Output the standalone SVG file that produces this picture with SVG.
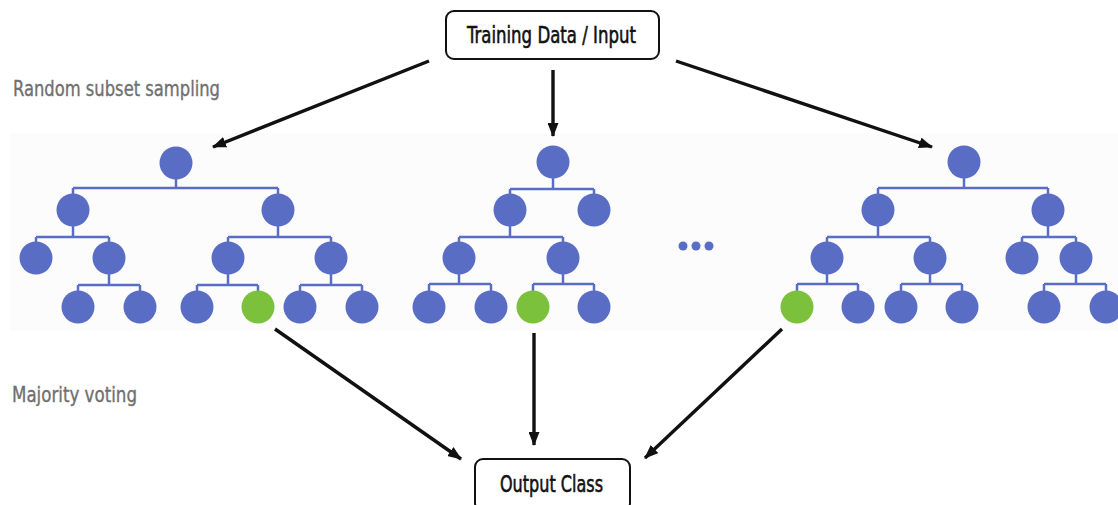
<svg xmlns="http://www.w3.org/2000/svg" width="1118" height="505" viewBox="0 0 1118 505">
  <defs>
    <marker id="arrow" viewBox="0 0 14 11" refX="13" refY="5.5" markerWidth="14" markerHeight="11" markerUnits="userSpaceOnUse" orient="auto">
      <path d="M0,0 L14,5.5 L0,11 Z" fill="#111"/>
    </marker>
  </defs>
  <style>
    .box { fill: #fff; stroke: #111; stroke-width: 2; }
    .label { font-family: "DejaVu Sans Condensed", "Liberation Sans Narrow", "Liberation Sans", sans-serif; fill: #111; stroke: #111; stroke-width: 0.55; font-size: 22.5px; }
    .side { font-family: "DejaVu Sans Condensed", "Liberation Sans Narrow", "Liberation Sans", sans-serif; fill: #707070; stroke: #707070; stroke-width: 0.35; font-size: 21px; }
    .edge { stroke: #5a6dc5; stroke-width: 2.5; fill: none; }
    .n { fill: #5a6dc5; }
    .g { fill: #7cc13c; }
    .conn { stroke: #111; stroke-width: 3.4; fill: none; marker-end: url(#arrow); }
  </style>

  <rect width="1118" height="505" fill="#fff"/>
  <!-- light panel behind the trees -->
  <rect x="10" y="133" width="1108" height="198" fill="#fcfcfc"/>

  <!-- section labels -->
  <text class="side" x="13" y="96" textLength="207" lengthAdjust="spacingAndGlyphs">Random subset sampling</text>
  <text class="side" x="12" y="402" textLength="125" lengthAdjust="spacingAndGlyphs">Majority voting</text>

  <!-- input node -->
  <g id="input">
    <rect class="box" x="446" y="11" width="213" height="48" rx="8"/>
    <text class="label" x="467" y="43" textLength="169" lengthAdjust="spacingAndGlyphs">Training Data / Input</text>
  </g>

  <!-- tree 1 -->
  <g id="tree1">
    <path class="edge" d="M176,163 V188 M73,188 H278 M73,188 V210 M278,188 V210
      M73,210 V237 M36,237 H109 M36,237 V258 M109,237 V258
      M278,210 V237 M228,237 H331 M228,237 V258 M331,237 V258
      M109,258 V285 M78,285 H140 M78,285 V307 M140,285 V307
      M228,258 V285 M197,285 H258 M197,285 V307 M258,285 V307
      M331,258 V285 M300,285 H362 M300,285 V307 M362,285 V307"/>
    <circle class="n" cx="176" cy="163" r="16.5"/>
    <circle class="n" cx="73" cy="210" r="16.5"/>
    <circle class="n" cx="278" cy="210" r="16.5"/>
    <circle class="n" cx="36" cy="258" r="16.5"/>
    <circle class="n" cx="109" cy="258" r="16.5"/>
    <circle class="n" cx="228" cy="258" r="16.5"/>
    <circle class="n" cx="331" cy="258" r="16.5"/>
    <circle class="n" cx="78" cy="307" r="16.5"/>
    <circle class="n" cx="140" cy="307" r="16.5"/>
    <circle class="n" cx="197" cy="307" r="16.5"/>
    <circle class="g" cx="258" cy="307" r="16.5"/>
    <circle class="n" cx="300" cy="307" r="16.5"/>
    <circle class="n" cx="362" cy="307" r="16.5"/>
  </g>

  <!-- tree 2 -->
  <g id="tree2">
    <path class="edge" d="M553,162 V189 M510,189 H594 M510,189 V210 M594,189 V210
      M510,210 V237 M459,237 H563 M459,237 V258 M563,237 V258
      M459,258 V284 M429,284 H491 M429,284 V307 M491,284 V307
      M563,258 V284 M533,284 H594 M533,284 V307 M594,284 V307"/>
    <circle class="n" cx="553" cy="162" r="16.5"/>
    <circle class="n" cx="510" cy="210" r="16.5"/>
    <circle class="n" cx="594" cy="210" r="16.5"/>
    <circle class="n" cx="459" cy="258" r="16.5"/>
    <circle class="n" cx="563" cy="258" r="16.5"/>
    <circle class="n" cx="429" cy="307" r="16.5"/>
    <circle class="n" cx="491" cy="307" r="16.5"/>
    <circle class="g" cx="533" cy="307" r="16.5"/>
    <circle class="n" cx="594" cy="307" r="16.5"/>
  </g>

  <!-- ellipsis between trees -->
  <g id="more">
    <circle class="n" cx="683" cy="246" r="4.5"/>
    <circle class="n" cx="696" cy="246" r="4.5"/>
    <circle class="n" cx="709" cy="246" r="4.5"/>
  </g>

  <!-- tree 3 -->
  <g id="tree3">
    <path class="edge" d="M964,162 V188 M878,188 H1048 M878,188 V210 M1048,188 V210
      M878,210 V237 M827,237 H930 M827,237 V258 M930,237 V258
      M1048,210 V237 M1022,237 H1076 M1022,237 V258 M1076,237 V258
      M827,258 V284 M797,284 H858 M797,284 V307 M858,284 V307
      M930,258 V284 M901,284 H962 M901,284 V307 M962,284 V307
      M1076,258 V284 M1044,284 H1106 M1044,284 V307 M1106,284 V307"/>
    <circle class="n" cx="964" cy="162" r="16.5"/>
    <circle class="n" cx="878" cy="210" r="16.5"/>
    <circle class="n" cx="1048" cy="210" r="16.5"/>
    <circle class="n" cx="827" cy="258" r="16.5"/>
    <circle class="n" cx="930" cy="258" r="16.5"/>
    <circle class="n" cx="1022" cy="258" r="16.5"/>
    <circle class="n" cx="1076" cy="258" r="16.5"/>
    <circle class="g" cx="797" cy="307" r="16.5"/>
    <circle class="n" cx="858" cy="307" r="16.5"/>
    <circle class="n" cx="901" cy="307" r="16.5"/>
    <circle class="n" cx="962" cy="307" r="16.5"/>
    <circle class="n" cx="1044" cy="307" r="16.5"/>
    <circle class="n" cx="1106" cy="307" r="16.5"/>
  </g>

  <!-- output node -->
  <g id="output">
    <rect class="box" x="475" y="459" width="155" height="52" rx="8"/>
    <text class="label" x="500" y="492" textLength="103" lengthAdjust="spacingAndGlyphs">Output Class</text>
  </g>

  <!-- connectors -->
  <g id="connectors">
    <line class="conn" x1="429" y1="61" x2="213" y2="147"/>
    <line class="conn" x1="553" y1="70" x2="553" y2="136"/>
    <line class="conn" x1="676" y1="61" x2="932" y2="147"/>
    <line class="conn" x1="275" y1="329" x2="461" y2="459"/>
    <line class="conn" x1="534" y1="333" x2="534" y2="445"/>
    <line class="conn" x1="782" y1="329" x2="645" y2="458"/>
  </g>
</svg>
